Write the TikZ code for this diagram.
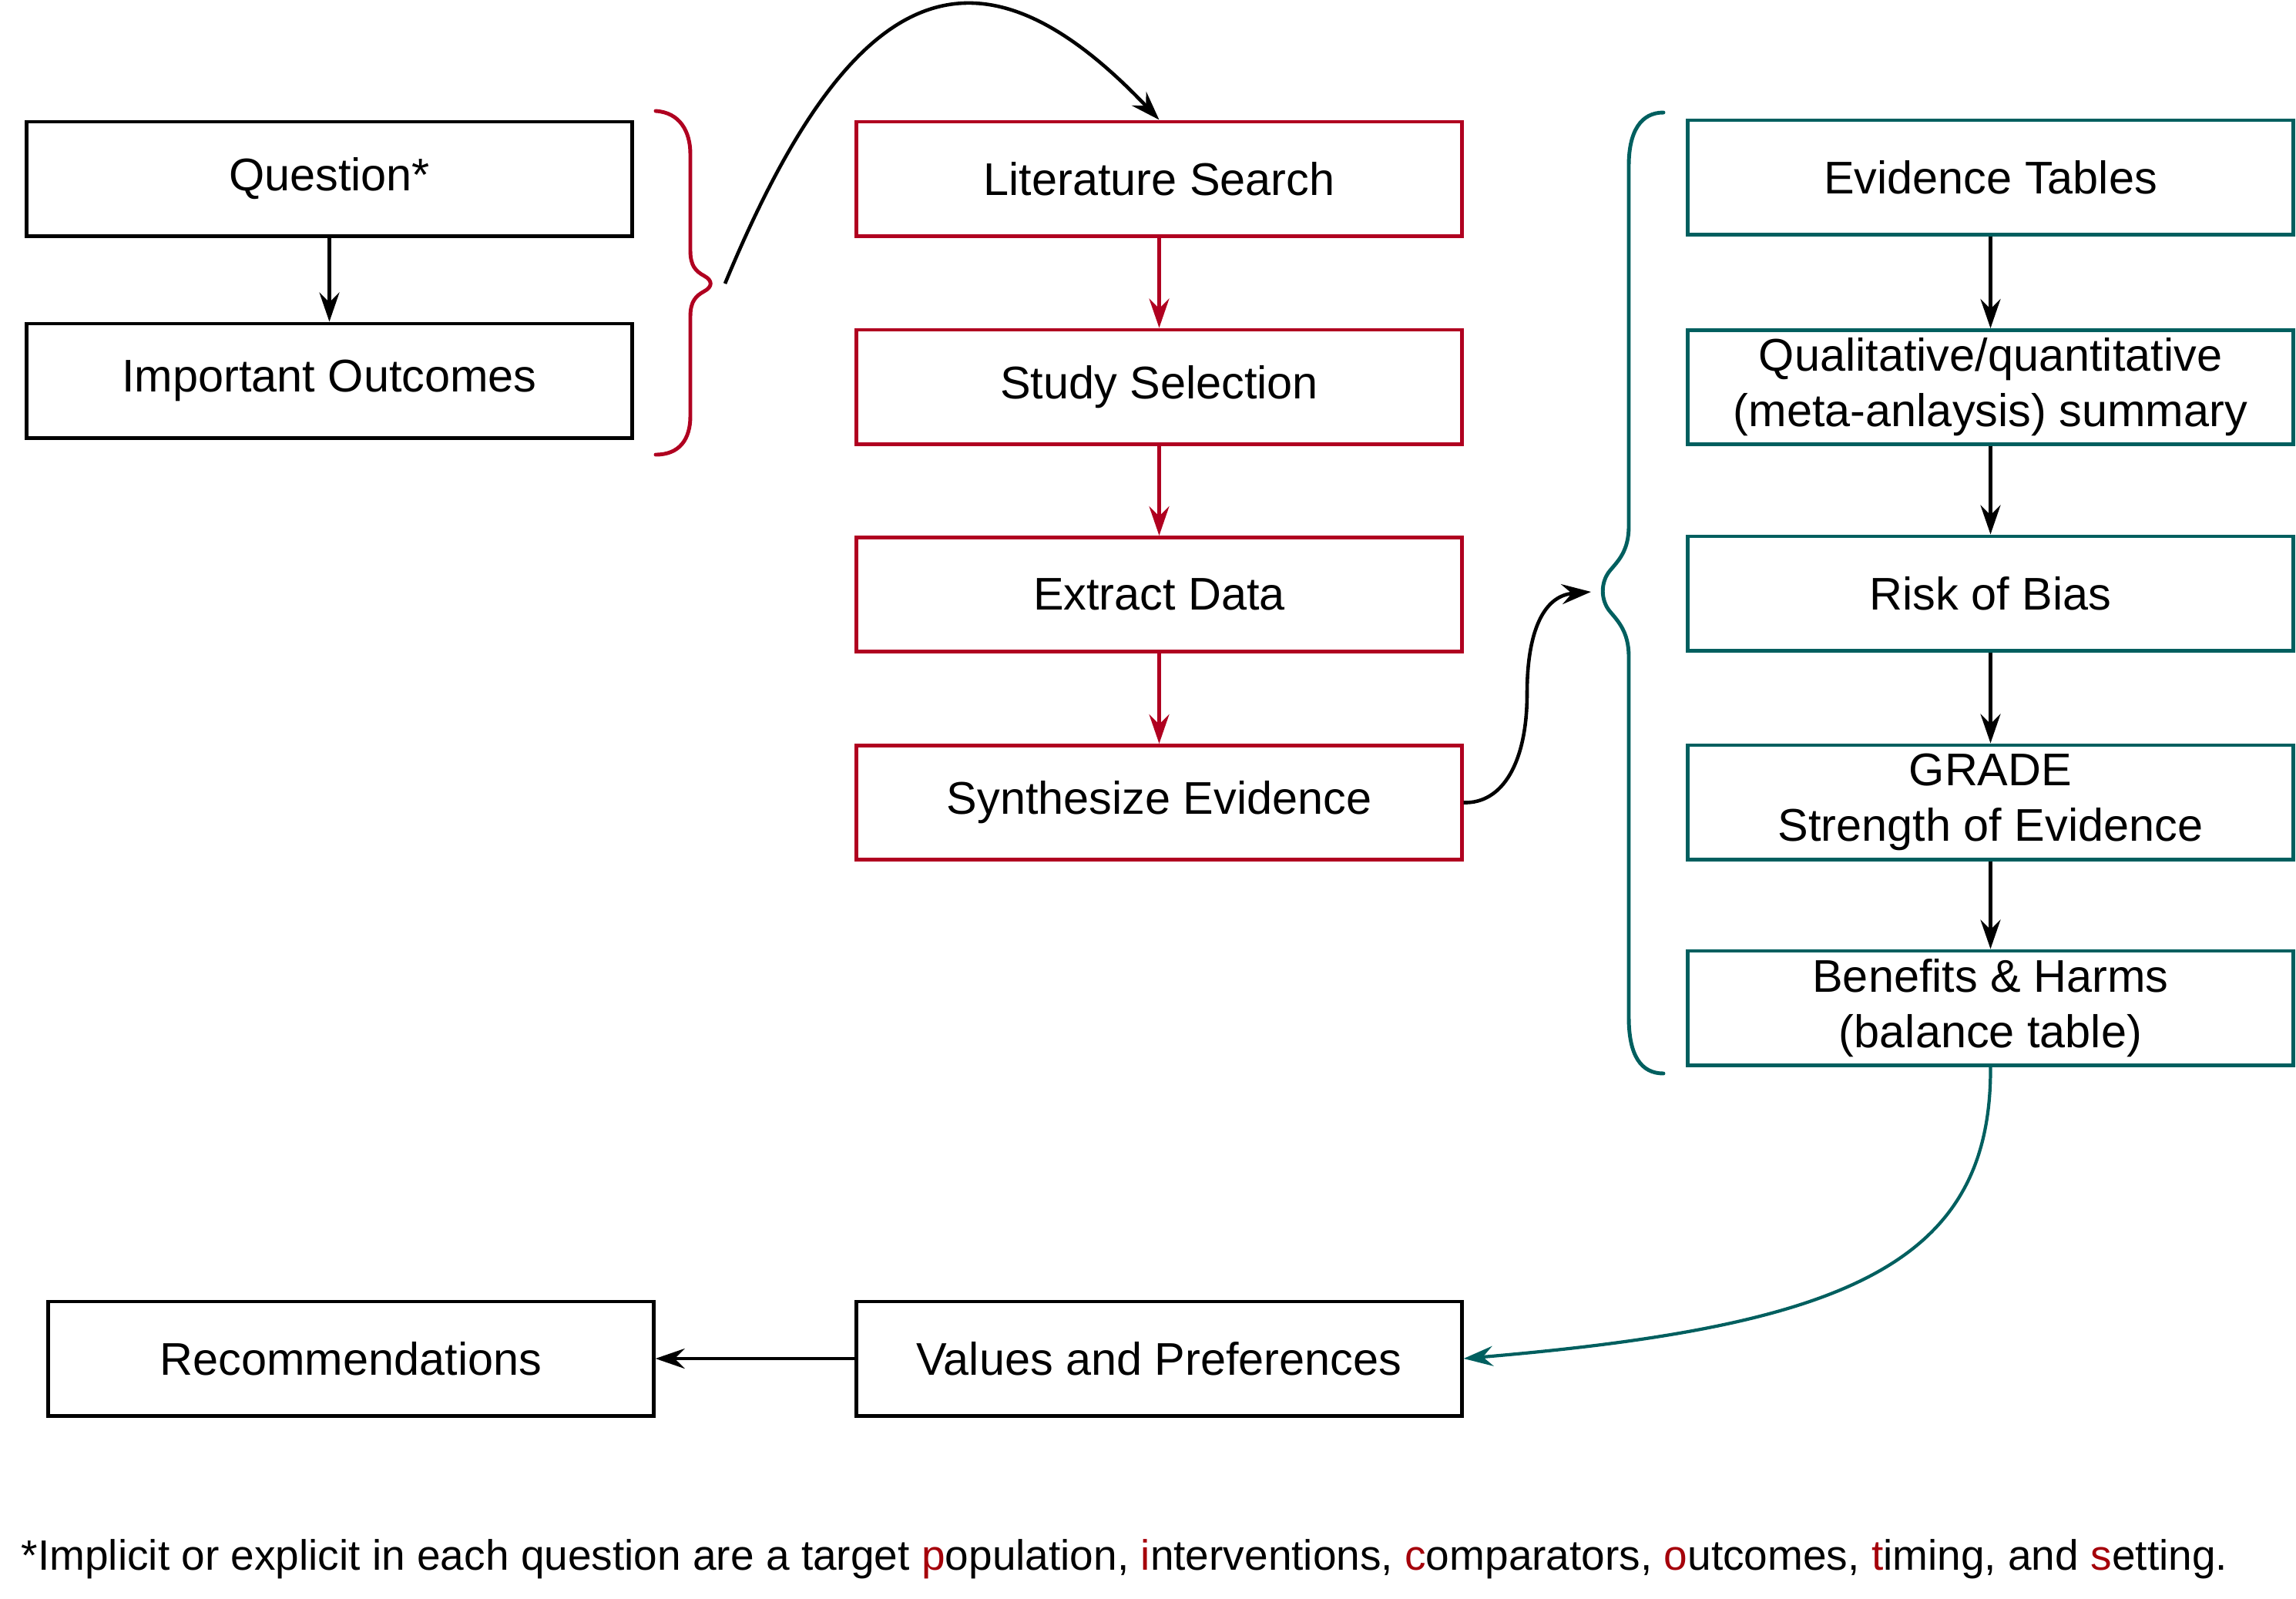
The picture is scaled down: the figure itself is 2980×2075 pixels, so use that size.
\documentclass[tikz,border=0pt]{standalone}
\usepackage{fontspec}
\setmainfont{Liberation Sans}
\usetikzlibrary{arrows.meta,calc}
\definecolor{boxred}{RGB}{176,0,32}
\definecolor{capred}{RGB}{165,0,10}
\definecolor{tealc}{RGB}{0,95,95}
\begin{document}
\begin{tikzpicture}[x=0.01cm,y=-0.01cm,
  box/.style={draw, line width=1.4pt, minimum width=7.85cm, minimum height=1.48cm,
    inner sep=0pt, align=center, font=\fontsize{16.9}{20.5}\selectfont},
  redbox/.style={box, draw=boxred},
  tealbox/.style={box, draw=tealc},
  blackbox/.style={box, draw=black},
  arr/.style={line width=1.3pt, -{Stealth[length=3.8mm,width=2.6mm,inset=1.3mm]}},
  bracestyle/.style={line width=1.4pt, line cap=round}
]
\useasboundingbox (0,0) rectangle (2980,2075);

% left column
\node[blackbox] (q) at (427.5,232) {Question*};
\node[blackbox] (io) at (427.5,494) {Important Outcomes};

% middle column
\node[redbox] (lit) at (1504.5,232) {Literature Search};
\node[redbox] (ss) at (1504.5,502) {Study Selection};
\node[redbox] (ed) at (1504.5,771.5) {Extract Data};
\node[redbox] (se) at (1504.5,1041.5) {Synthesize Evidence};

% right column
\node[tealbox] (et) at (2583.5,230) {Evidence Tables};
\node[tealbox] (qs) at (2583.5,502.5) {Qualitative/quantitative\\(meta-anlaysis) summary};
\node[tealbox] (rb) at (2583.5,770) {Risk of Bias};
\node[tealbox] (gr) at (2583.5,1041) {GRADE\\Strength of Evidence};
\node[tealbox] (bh) at (2583.5,1308) {Benefits \& Harms\\(balance table)};

% bottom row
\node[blackbox] (rec) at (455.5,1763) {Recommendations};
\node[blackbox] (vp) at (1504.5,1763) {Values and Preferences};

% braces
\draw[bracestyle, boxred] (851,144) .. controls (882,146) and (896,170) .. (896,200)
  -- (896,325) .. controls (896,345) and (903,352) .. (914,358)
  .. controls (925,364) and (925,372) .. (914,378)
  .. controls (903,384) and (896,391) .. (896,411)
  -- (896,540) .. controls (896,570) and (882,590) .. (851,590);
\draw[bracestyle, tealc] (2159,146) .. controls (2130,146) and (2114,170) .. (2114,215)
  -- (2114,683) .. controls (2114,715) and (2100,728) .. (2090,740)
  .. controls (2077,755) and (2077,779) .. (2090,794)
  .. controls (2100,806) and (2114,820) .. (2114,852)
  -- (2114,1320) .. controls (2114,1370) and (2130,1393) .. (2159,1393);

% free ends
\coordinate (qstart) at (941,368);
\coordinate (tin) at (2065,768);

% connectors
\draw[arr] (q.south) -- (io.north);
\draw[arr, boxred] (lit.south) -- (ss.north);
\draw[arr, boxred] (ss.south) -- (ed.north);
\draw[arr, boxred] (ed.south) -- (se.north);
\draw[arr] (et.south) -- (qs.north);
\draw[arr] (qs.south) -- (rb.north);
\draw[arr] (rb.south) -- (gr.north);
\draw[arr] (gr.south) -- (bh.north);
\draw[arr] (vp.west) -- (rec.east);

\draw[arr] (qstart) .. controls (1110,-40) and (1273,-88) .. (lit.north);
\draw[arr] (se.east) .. controls (1950,1043) and (1982,990) .. (1982,900)
  .. controls (1982,820) and (2003,773) .. (tin);
\draw[arr, tealc, line width=1.2pt] (bh.south) .. controls (2585,1640) and (2397,1721) .. (vp.east);

% caption
\node[anchor=base west, inner sep=0pt, font=\fontsize{15.65}{19}\selectfont] (cap) at (27,2037)
  {*Implicit or explicit in each question are a target \textcolor{capred}{p}opulation, \textcolor{capred}{i}nterventions, \textcolor{capred}{c}omparators, \textcolor{capred}{o}utcomes, \textcolor{capred}{t}iming, and \textcolor{capred}{s}etting.};
\end{tikzpicture}
\end{document}
